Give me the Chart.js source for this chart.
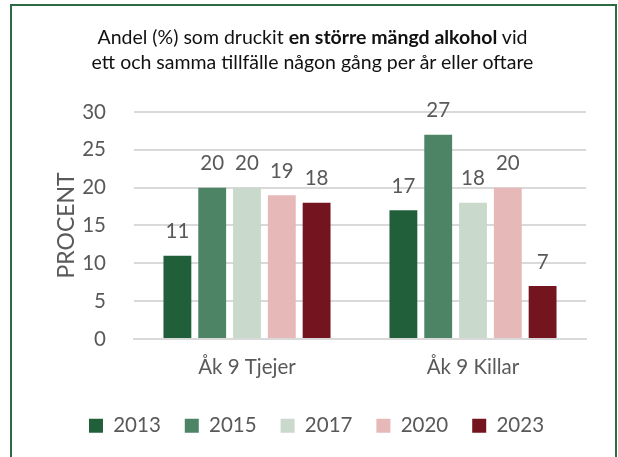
<!DOCTYPE html>
<html>
<head>
<meta charset="utf-8">
<script src="https://cdn.jsdelivr.net/npm/chart.js@4"></script>
<style>
  html, body { margin: 0; padding: 0; background: #fff; }
  #wrap { position: relative; width: 618px; height: 457px; overflow: hidden; }
  #frame {
    position: absolute; left: 10px; top: 4px; width: 607px; height: 470px;
    border: 2px solid #2e6a44; box-sizing: border-box;
  }
  #title {
    position: absolute; left: 10px; top: 24px; width: 605px;
    text-align: center; font-family: Lato, sans-serif; font-size: 19.5px;
    line-height: 25px; color: #111;
  }
  canvas { position: absolute; left: 0; top: 0; }
</style>
</head>
<body>
<div id="wrap">
  <canvas id="c" width="618" height="457"></canvas>
  <div id="frame"></div>
  <div id="title">Andel (%) som druckit <b>en större mängd alkohol</b> vid<br>ett och samma tillfälle någon gång per år eller oftare</div>
</div>
<script>
const categories = ['Åk 9 Tjejer', 'Åk 9 Killar'];
const years = ['2013', '2015', '2017', '2020', '2023'];
const v2013 = [11, 17];
const v2015 = [20, 27];
const v2017 = [20, 18];
const v2020 = [19, 20];
const v2023 = [18, 7];
const colors = ['#215f3a', '#4e8466', '#c9d9cc', '#e6b8b7', '#73141f'];

const grey = '#595959';
const font = 'Lato, sans-serif';

// enkel etikett-plugin ovanför staplarna
const barLabels = {
  id: 'barLabels',
  afterDatasetsDraw(chart) {
    const ctx = chart.ctx;
    ctx.save();
    ctx.font = '20.5px ' + font;
    ctx.fillStyle = grey;
    ctx.textAlign = 'center';
    ctx.textBaseline = 'middle';
    chart.data.datasets.forEach((ds, i) => {
      chart.getDatasetMeta(i).data.forEach((bar, j) => {
        ctx.fillText(ds.data[j], bar.x, bar.y - 24);
      });
    });
    ctx.restore();
  }
};

const series = [v2013, v2015, v2017, v2020, v2023];

new Chart(document.getElementById('c'), {
  type: 'bar',
  data: {
    labels: categories,
    datasets: series.map((d, i) => ({
      label: years[i],
      data: d,
      backgroundColor: colors[i],
      categoryPercentage: 0.77,
      barPercentage: 0.8
    }))
  },
  options: {
    responsive: false,
    animation: false,
    layout: { padding: { top: 112, left: 47, right: 32, bottom: 11 } },
    plugins: {
      title: { display: false },
      tooltip: { enabled: false },
      legend: {
        position: 'bottom',
        labels: {
          font: { family: font, size: 20.5 },
          color: grey,
          boxWidth: 14,
          boxHeight: 14,
          padding: 24
        }
      }
    },
    scales: {
      x: {
        afterFit: (axis) => { axis.height -= 4; },
        grid: { display: false, drawTicks: false },
        border: { color: '#d9d9d9', width: 2 },
        ticks: { font: { family: font, size: 20.5 }, color: grey, padding: 16 }
      },
      y: {
        min: 0,
        max: 30,
        afterFit: (axis) => { axis.width = 87; },
        ticks: { stepSize: 5, font: { family: font, size: 20.5 }, color: grey, padding: 28 },
        grid: { color: '#d9d9d9', lineWidth: 2, drawTicks: false },
        border: { display: false },
        title: {
          display: true,
          text: 'PROCENT',
          font: { family: font, size: 23 },
          color: grey,
          padding: 6
        }
      }
    }
  },
  plugins: [barLabels]
});
</script>
</body>
</html>
